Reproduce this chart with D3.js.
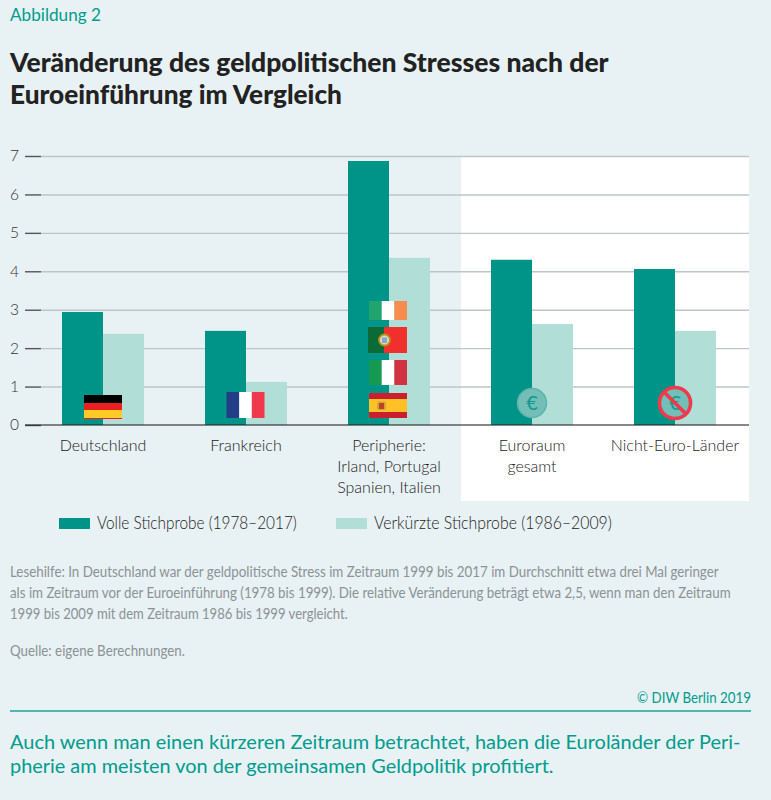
<!DOCTYPE html>
<html><head><meta charset="utf-8">
<script src="https://cdn.jsdelivr.net/npm/d3@7"></script>
<style>html,body{margin:0;padding:0;background:#e8f1f3}svg{display:block}text{font-family:Lato,sans-serif}</style>
</head><body><svg id="c" width="771" height="800"></svg>
<script>
const categories = ["Deutschland","Frankreich","Peripherie","Euroraum","Nicht-Euro-Länder"];
const categoryLabels = [["Deutschland"],["Frankreich"],["Peripherie:","Irland, Portugal","Spanien, Italien"],["Euroraum","gesamt"],["Nicht-Euro-Länder"]];
const seriesNames = ["Volle Stichprobe (1978–2017)","Verkürzte Stichprobe (1986–2009)"];
const volleStichprobe = [2.94,2.45,6.87,4.3,4.06];
const verkuerzteStichprobe = [2.37,1.12,4.35,2.63,2.45];
const yTicks = [0,1,2,3,4,5,6,7];
const notes = ["Lesehilfe: In Deutschland war der geldpolitische Stress im Zeitraum 1999 bis 2017 im Durchschnitt etwa drei Mal geringer",
"als im Zeitraum vor der Euroeinführung (1978 bis 1999). Die relative Veränderung beträgt etwa 2,5, wenn man den Zeitraum",
"1999 bis 2009 mit dem Zeitraum 1986 bis 1999 vergleicht."];

const DARK="#009488", LIGHT="#b1ded7", TEAL="#009c8d", INK="#222";
const svg=d3.select("#c");
function txt(s,x,y,size,fill,len,opt={}){
  const t=svg.append("text").attr("font-size",size).attr("fill",fill).text(s);
  if(opt.weight)t.attr("font-weight",opt.weight);
  if(opt.anchor)t.attr("text-anchor",opt.anchor);
  if(len){
    const w=t.node().getComputedTextLength();
    t.attr("transform",`translate(${x},${y}) scale(${len/w},1)`);
  } else {
    t.attr("x",x).attr("y",y);
  }
  return t;
}
svg.append("rect").attr("width",771).attr("height",800).attr("fill","#e8f1f3");
svg.append("rect").attr("x",461).attr("y",156).attr("width",288).attr("height",345).attr("fill","#fff");

txt("Abbildung 2",10,21,16.5,TEAL,91);
txt("Veränderung des geldpolitischen Stresses nach der",10,72,27,INK,599,{weight:900});
txt("Euroeinführung im Vergleich",10,104,27,INK,332,{weight:900});

const y=d3.scaleLinear().domain([0,7]).range([425,156]);
const x=d3.scaleBand().domain(categories).range([31.5,746.5]);
const inner=d3.scaleBand().domain(seriesNames).range([x.bandwidth()/2-41,x.bandwidth()/2+41]);

const grid=svg.append("g").attr("transform","translate(41,0)")
  .call(d3.axisLeft(y).tickValues(yTicks.slice(1)).tickSize(-708).tickFormat(""));
grid.select(".domain").remove();
grid.selectAll("line").attr("stroke","#bcc6c9").attr("stroke-width",1.4);

[volleStichprobe,verkuerzteStichprobe].forEach((vals,i)=>{
  svg.append("g").selectAll("rect").data(vals).join("rect")
    .attr("x",(d,j)=>x(categories[j])+inner(seriesNames[i]))
    .attr("width",inner.bandwidth())
    .attr("y",d=>y(d)).attr("height",d=>y(0)-y(d))
    .attr("fill",i?LIGHT:DARK);
});

const ax=svg.append("g").attr("transform","translate(41,0)")
  .call(d3.axisLeft(y).tickValues(yTicks).tickSize(16).tickPadding(6).tickFormat(d3.format("d")));
ax.select(".domain").remove();
ax.selectAll("line").attr("stroke","#555").attr("stroke-width",1.4);
ax.selectAll("text").attr("font-size",15.5).attr("fill","#333").attr("font-weight",300).attr("font-family","Lato,sans-serif");
svg.append("line").attr("x1",25).attr("x2",749).attr("y1",y(0)).attr("y2",y(0))
  .attr("stroke","#222").attr("stroke-opacity",.72).attr("stroke-width",1.6);

categoryLabels.forEach((lines,i)=>{
  lines.forEach((l,k)=>{
    txt(l,x(categories[i])+x.bandwidth()/2,451+k*21,16,"#222",null,{anchor:"middle",weight:300});
  });
});

function stripesV(x0,y0,w,h,cols){cols.forEach((c,i)=>svg.append("rect").attr("x",x0+i*w/cols.length).attr("y",y0).attr("width",w/cols.length).attr("height",h).attr("fill",c));}
const cx=c=>x(c)+x.bandwidth()/2;
const dx=cx("Deutschland")-19;
[["#000",395,8],["#e8201f",403,7],["#ffcb26",410,8],["#e8201f",418,1]].forEach(b=>svg.append("rect").attr("x",dx).attr("y",b[1]).attr("width",38).attr("height",b[2]).attr("fill",b[0]));
stripesV(cx("Frankreich")-19.5,392,38,26,["#233e87","#fff","#f0394d"]);
const px=cx("Peripherie")-20;
stripesV(px,301,38,19,["#21a56f","#fff","#f78c4f"]);
svg.append("rect").attr("x",px-1).attr("y",327).attr("width",16).attr("height",26).attr("fill","#0b6a35");
svg.append("rect").attr("x",px+15).attr("y",327).attr("width",23).attr("height",26).attr("fill","#f0302d");
svg.append("circle").attr("cx",px+15.5).attr("cy",340).attr("r",5.5).attr("fill","#d5dcc8").attr("stroke","#b8941c").attr("stroke-width",1.8);
svg.append("rect").attr("x",px+13).attr("y",337.5).attr("width",5).attr("height",5.5).attr("fill","#8fa3c8");
stripesV(px,360,38,25,["#169a52","#fff","#d23343"]);
svg.append("rect").attr("x",px).attr("y",393).attr("width",38).attr("height",25).attr("fill","#c8202f");
svg.append("rect").attr("x",px).attr("y",399).attr("width",38).attr("height",13).attr("fill","#ffc226");
svg.append("rect").attr("x",px+8).attr("y",401.5).attr("width",9).attr("height",8.5).attr("rx",2).attr("fill","#d9a040");
svg.append("rect").attr("x",px+10).attr("y",403).attr("width",5).attr("height",6).attr("fill","#b8452a");

function coin(cxv,r){
  svg.append("circle").attr("cx",cxv).attr("cy",403).attr("r",r).attr("fill","#73bfb8").attr("stroke","#5cb3ab").attr("stroke-width",1.5);
  txt("€",cxv,410,20,"#0f9a8c",null,{anchor:"middle",weight:400});
}
coin(cx("Euroraum"),14.5);
coin(cx("Nicht-Euro-Länder"),14.5);
const nx=cx("Nicht-Euro-Länder");
svg.append("circle").attr("cx",nx).attr("cy",403).attr("r",15.6).attr("fill","none").attr("stroke","#f0394d").attr("stroke-width",3.5);
svg.append("line").attr("x1",nx-11).attr("y1",392).attr("x2",nx+11).attr("y2",414).attr("stroke","#f0394d").attr("stroke-width",3.5);

[[59,97,200],[336,374,238]].forEach((p,i)=>{
  svg.append("rect").attr("x",p[0]).attr("y",518).attr("width",31).attr("height",11).attr("fill",i?LIGHT:DARK);
  txt(seriesNames[i],p[1],528.5,17,"#222",p[2],{weight:300});
});

[[576.5,709],[597.5,721],[618.5,338]].forEach((p,i)=>txt(notes[i],10,p[0],16,"#8b9396",p[1]));
txt("Quelle: eigene Berechnungen.",10,655.5,16,"#8b9396",175);
txt("© DIW Berlin 2019",751,703,14.5,TEAL,114,{anchor:"end"});
svg.append("line").attr("x1",10).attr("x2",751).attr("y1",711).attr("y2",711).attr("stroke","#1ba598").attr("stroke-width",1.5);
txt("Auch wenn man einen kürzeren Zeitraum betrachtet, haben die Euroländer der Peri-",10,749,20,TEAL,731);
txt("pherie am meisten von der gemeinsamen Geldpolitik profitiert.",10,773,20,TEAL,544);
</script></body></html>
